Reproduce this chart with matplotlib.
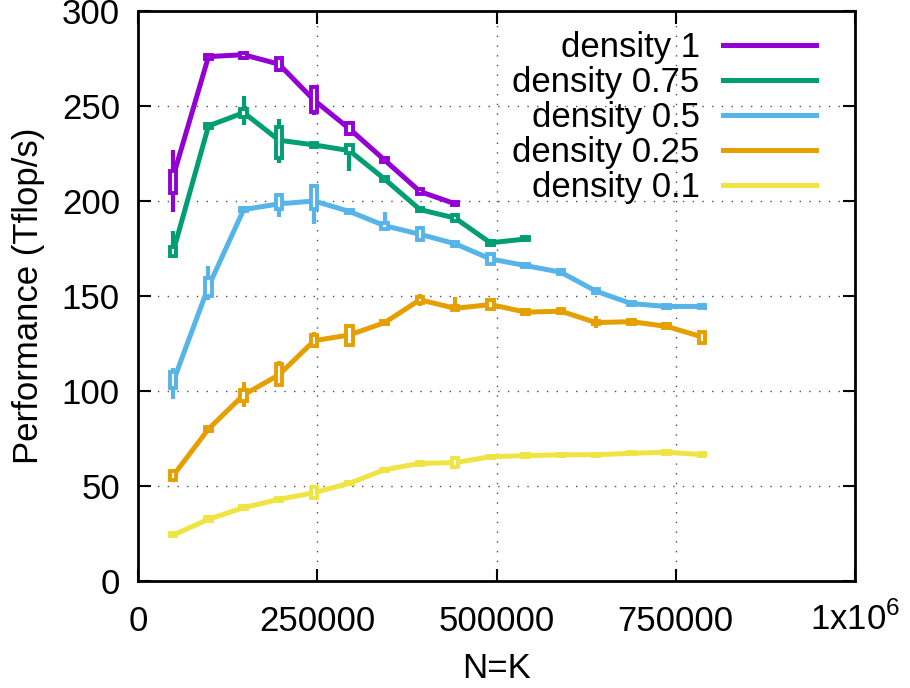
import numpy as np
import matplotlib
matplotlib.use('Agg')
import matplotlib.pyplot as plt
from matplotlib.patches import Rectangle
from matplotlib.ticker import FuncFormatter

plt.rcParams['font.family'] = ['Liberation Sans', 'DejaVu Sans']
plt.rcParams['mathtext.fontset'] = 'custom'
plt.rcParams['mathtext.rm'] = 'Liberation Sans'

##data: x is N=K, in steps of 49152
n_k = [49152 * i for i in range(1, 17)]

labels = ['density 1', 'density 0.75', 'density 0.5', 'density 0.25', 'density 0.1']
colors = ['#9400D3', '#009E73', '#56B4E9', '#E69F00', '#F0E442']

##density 1
d100_val = [213, 276, 277, 272, 253, 238, 221.5, 205, 198.5]
d100_q1 = [204, 275, 275.5, 269, 247, 235, 220.5, 203.5, 198]
d100_q3 = [216, 277, 278, 275, 260, 241, 222.5, 206.5, 199.5]
d100_lo = [194, 274.5, 274, 268, 245, 234, 220, 203, 197.5]
d100_hi = [227, 277.5, 279, 276, 261, 242, 223, 207, 200]

##density 0.75
d075_val = [173.5, 239.5, 246.5, 232, 229.5, 226.5, 211.5, 195.5, 191, 178, 180]
d075_q1 = [171, 238.5, 244, 222.5, 228.5, 225, 210.5, 194.5, 189.5, 177, 179.5]
d075_q3 = [176, 240.5, 248.5, 239, 230.5, 229.5, 212.5, 196.5, 192.5, 179, 181]
d075_lo = [170, 238, 240, 220, 228, 216, 210, 194, 189, 176.5, 179]
d075_hi = [184, 241, 255, 243, 231, 230, 213, 197, 193, 179.5, 181.5]

##density 0.5
d050_val = [105, 155, 195.5, 198.5, 200, 194.5, 187, 182.5, 177.5, 169.5, 166, 162.5, 152.5, 146, 144.5, 144.5]
d050_q1 = [101.5, 150, 194.5, 196, 196, 193.5, 185.5, 179.5, 176.5, 167, 165, 161.5, 151.5, 145, 143.5, 143.5]
d050_q3 = [110, 159.5, 196.5, 203, 208, 195.5, 188.5, 186, 178.5, 172, 167, 163.5, 153.5, 147, 145.5, 145.5]
d050_lo = [96, 148, 194, 191.5, 188, 193, 185, 179, 176, 166.5, 164.5, 161, 151, 144.5, 143, 143]
d050_hi = [112, 166, 197, 204, 209, 196, 194, 187, 179, 172.5, 167.5, 164, 154, 147.5, 146, 146]

##density 0.25
d025_val = [55.5, 80, 98, 108.5, 126.5, 129.5, 136, 148, 143.5, 145.5, 141.5, 142, 136, 136.5, 134, 128.5]
d025_q1 = [53, 79, 94.5, 103, 123.5, 124, 135, 146.5, 142.5, 143, 140.5, 141, 135, 135.5, 133, 125.5]
d025_q3 = [58, 81, 100.5, 114, 129.5, 134, 137, 149.5, 144.5, 148, 142.5, 143, 137, 137.5, 135, 131]
d025_lo = [52, 78.5, 91.5, 102, 122.5, 123, 134.5, 144.5, 142, 142.5, 140, 140.5, 133, 135, 132.5, 125]
d025_hi = [59, 81.5, 105, 116, 131, 134.5, 137.5, 151, 149.5, 148.5, 143, 143.5, 139.5, 138, 135.5, 131.5]

##density 0.1
d010_val = [24.2, 32.5, 38.6, 43, 46.5, 51.4, 58.6, 61.9, 62.3, 65.4, 66, 66.4, 66.5, 67.2, 67.8, 66.5]
d010_q1 = [23.5, 31.5, 37.8, 42.3, 43.8, 50.8, 58, 61.3, 60, 64.8, 65.4, 65.8, 65.9, 66.6, 67, 65.8]
d010_q3 = [25, 33.5, 39.4, 43.8, 49.5, 52, 59.2, 62.5, 64.7, 66, 66.6, 67, 67.1, 67.8, 68.6, 67.2]
d010_lo = [22.5, 30.5, 37.5, 42, 43.5, 50.5, 57.8, 61, 59.8, 64.5, 65, 65.5, 65.6, 66.3, 66.5, 65.5]
d010_hi = [25.5, 34.5, 39.7, 44, 50, 52.3, 59.4, 62.8, 65, 66.2, 67, 67.2, 67.3, 68, 69, 67.5]

series = [
    (d100_val, d100_q1, d100_q3, d100_lo, d100_hi),
    (d075_val, d075_q1, d075_q3, d075_lo, d075_hi),
    (d050_val, d050_q1, d050_q3, d050_lo, d050_hi),
    (d025_val, d025_q1, d025_q3, d025_lo, d025_hi),
    (d010_val, d010_q1, d010_q3, d010_lo, d010_hi),
]

##set up the plot
fig = plt.figure()
fig.set_size_inches(9.10, 6.88)
ax = fig.add_axes([138/910, 1 - 581/688, (855 - 138)/910, (581 - 11)/688])

box_w = 9000
for (val, q1, q3, lo, hi), col, lab in zip(series, colors, labels):
    x = n_k[:len(val)]
    ax.plot(x, val, '-', color=col, lw=3.6, label=lab, zorder=3)
    for xi, a, b, c, d in zip(x, q1, q3, lo, hi):
        ax.plot([xi, xi], [c, a], color=col, lw=3, zorder=4, solid_capstyle='butt')
        ax.plot([xi, xi], [b, d], color=col, lw=3, zorder=4, solid_capstyle='butt')
        ax.add_patch(Rectangle((xi - box_w/2, a), box_w, b - a, facecolor='white',
                               edgecolor=col, lw=2.8, zorder=5))

##axes
ax.set_xlim(0, 1e6)
ax.set_ylim(0, 300)
ax.set_xticks([0, 250000, 500000, 750000, 1e6])
ax.set_yticks([0, 50, 100, 150, 200, 250, 300])

def xfmt(v, pos):
    if v >= 1e6:
        return ''
    return '%d' % v

ax.xaxis.set_major_formatter(FuncFormatter(xfmt))
ax.tick_params(direction='in', length=9, width=1.5, top=True, right=True, labelsize=25)
ax.tick_params(axis='x', pad=17)
ax.tick_params(axis='y', pad=13)
for s in ax.spines.values():
    s.set_linewidth(2)

##the 1x10^6 label sits on the same baseline as the other x labels
ax.annotate(r'1x10$^{6}$', xy=(1e6, 0), xycoords=('data', 'axes fraction'),
            xytext=(0, -49), textcoords='offset pixels', ha='center', va='baseline',
            fontsize=25)

ax.grid(True, linestyle=(0, (1, 6)), color='0.3', lw=1)
ax.set_axisbelow(True)

ax.set_xlabel('N=K', fontsize=25, labelpad=10)
ax.set_ylabel('Performance (Tflop/s)', fontsize=25, labelpad=12)

ax.legend(loc='upper right', fontsize=25, frameon=False, markerfirst=False,
          handlelength=2.68, handletextpad=0.66, labelspacing=0.06,
          borderaxespad=0.3, bbox_to_anchor=(0.979, 1.008))

fig.savefig('out.png', dpi=100)
